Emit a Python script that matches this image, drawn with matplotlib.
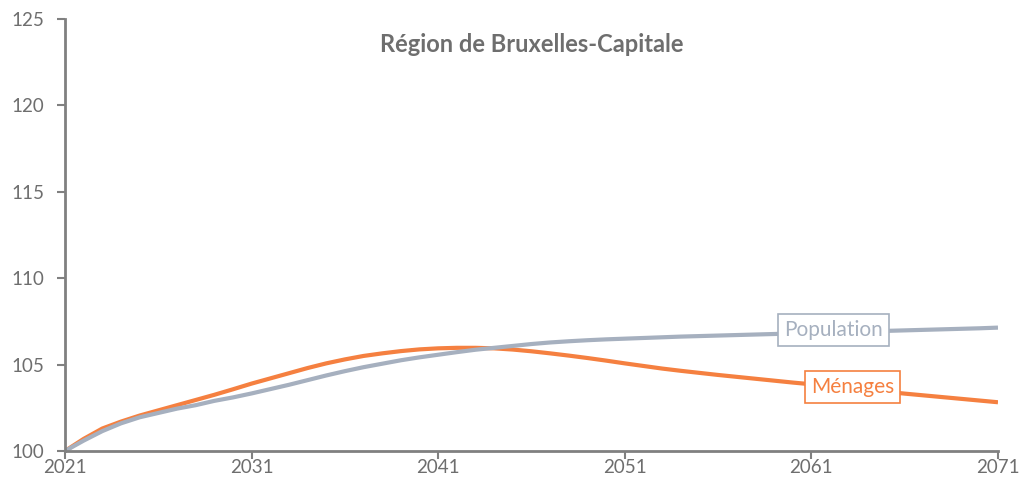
import matplotlib
matplotlib.use("Agg")
import matplotlib.pyplot as plt

years = list(range(2021, 2072))
population = [
    100.0, 100.6, 101.15, 101.6, 101.95, 102.2, 102.45, 102.65, 102.9, 103.1,
    103.33, 103.58, 103.83, 104.1, 104.37, 104.62, 104.85, 105.05, 105.25, 105.42,
    105.57, 105.72, 105.86, 105.97, 106.08, 106.19, 106.28, 106.35, 106.41, 106.46,
    106.5, 106.54, 106.58, 106.62, 106.65, 106.68, 106.71, 106.74, 106.77, 106.8,
    106.83, 106.86, 106.89, 106.92, 106.95, 106.98, 107.01, 107.04, 107.07, 107.1,
    107.14,
]
menages = [
    100.0, 100.7, 101.3, 101.7, 102.05, 102.35, 102.65, 102.95, 103.25, 103.57,
    103.9, 104.2, 104.5, 104.8, 105.07, 105.3, 105.5, 105.65, 105.78, 105.88,
    105.94, 105.97, 105.97, 105.94, 105.87, 105.77, 105.65, 105.52, 105.38, 105.23,
    105.07, 104.92, 104.77, 104.64, 104.52, 104.4, 104.29, 104.18, 104.07, 103.96,
    103.86, 103.75, 103.64, 103.53, 103.43, 103.32, 103.22, 103.12, 103.02, 102.92,
    102.82,
]
x_ticks = [2021, 2031, 2041, 2051, 2061, 2071]
y_ticks = [100, 105, 110, 115, 120, 125]
title = "Région de Bruxelles-Capitale"

pop_color = "#A6B0BF"
men_color = "#F58040"
axis_color = "#808080"
text_color = "#6E6E6E"

plt.rcParams["font.family"] = ["Lato", "DejaVu Sans"]

fig = plt.figure(figsize=(10.22, 4.79), dpi=100)
ax = fig.add_axes([0.0636, 0.0585, 0.9129, 0.9018])

ax.plot(years, menages, color=men_color, lw=3.0, solid_capstyle="butt", zorder=3)
ax.plot(years, population, color=pop_color, lw=3.0, solid_capstyle="butt", zorder=3)

ax.set_xlim(2021, 2071)
ax.set_ylim(100, 125)
ax.set_xticks(x_ticks)
ax.set_yticks(y_ticks)
ax.tick_params(axis="both", colors=axis_color, labelcolor=text_color,
               labelsize=13.5, width=1.5, length=6, direction="out")
ax.tick_params(axis="x", pad=0)
ax.tick_params(axis="y", pad=9)

for side in ("top", "right"):
    ax.spines[side].set_visible(False)
for side in ("left", "bottom"):
    ax.spines[side].set_color(axis_color)
    ax.spines[side].set_linewidth(2)
    ax.spines[side].set_zorder(4)

ax.text(0.5, 0.94, title, transform=ax.transAxes, ha="center", va="center",
        fontsize=17, fontweight="bold", color=text_color)

ax.text(2062.2, 107.0, "Population", ha="center", va="center",
        fontsize=15, color=pop_color, zorder=5,
        bbox=dict(boxstyle="square,pad=0.3", fc="white", ec=pop_color, lw=1.2))
ax.text(2063.2, 103.7, "Ménages", ha="center", va="center",
        fontsize=15, color=men_color, zorder=5,
        bbox=dict(boxstyle="square,pad=0.3", fc="white", ec=men_color, lw=1.2))

fig.savefig("out.png", dpi=100)
